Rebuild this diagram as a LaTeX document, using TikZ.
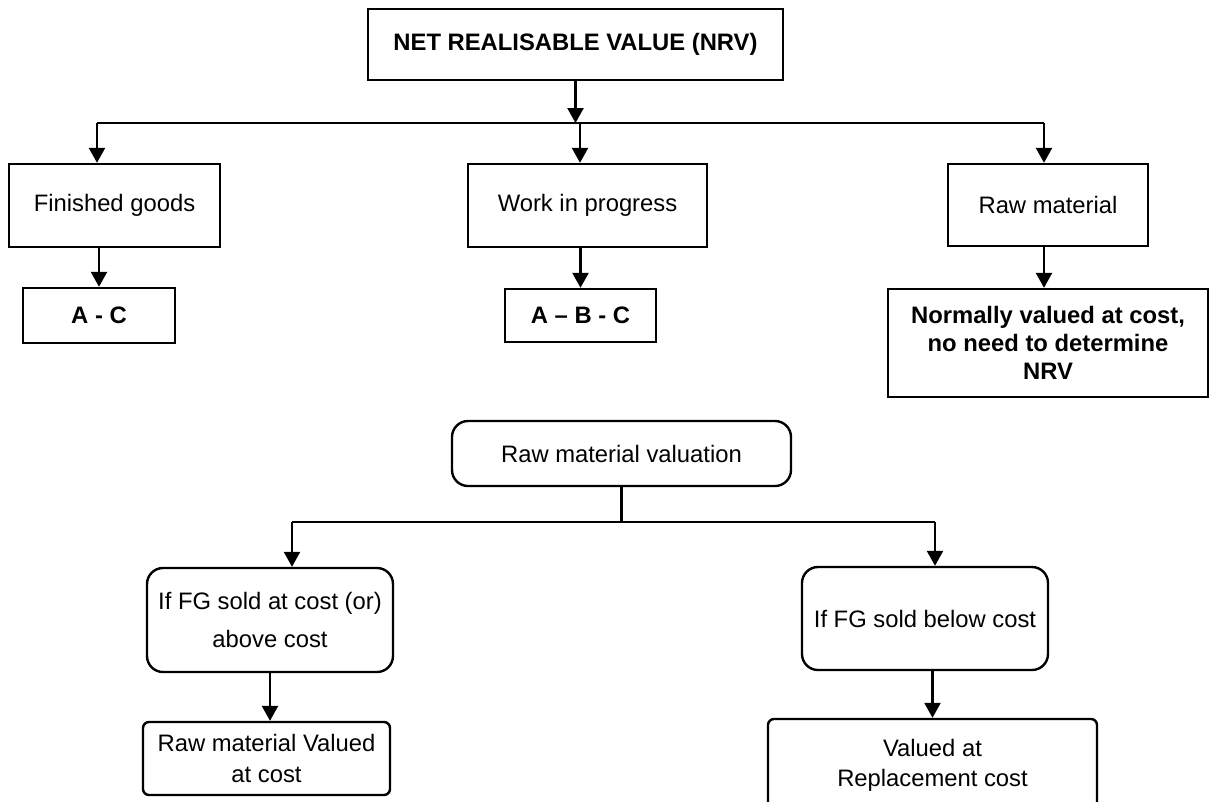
\documentclass[tikz,border=0pt]{standalone}
\usepackage{fontspec}
\setmainfont{Liberation Sans}
\usetikzlibrary{arrows.meta}
\begin{document}
\begin{tikzpicture}[x=1pt, y=-1pt,
    box/.style={draw, line width=2.4pt, inner sep=0pt, align=center,
        font=\fontsize{23.8}{28}\selectfont},
    boldbox/.style={box, font=\fontsize{23.8}{28}\selectfont\bfseries},
    roundbox/.style={box, rounded corners=16pt},
    smallround/.style={box, rounded corners=6pt},
    line/.style={line width=2.4pt},
    arr/.style={line width=2.4pt, -{Triangle[length=15pt,width=16pt]}}]
    \useasboundingbox (0,0) rectangle (1209,801);
    \clip (0,0) rectangle (1209,801);

    % Top box
    \node[boldbox, minimum width=415pt, minimum height=71pt] (nrv) at (575.5,44.5) {NET REALISABLE VALUE (NRV)};

    % Three kinds of stock
    \node[box, minimum width=211pt, minimum height=83pt] (fg) at (114.5,205.5) {Finished goods};
    \node[box, minimum width=239pt, minimum height=83pt] (wip) at (587.5,205.5) {Work in progress};
    \node[box, minimum width=200pt, minimum height=82pt] (rm) at (1048,205) {Raw material};

    % Their NRV
    \node[boldbox, minimum width=152pt, minimum height=55pt] (ac) at (99,315.5) {A - C};
    \node[boldbox, minimum width=151pt, minimum height=53pt] (abc) at (580.5,315.5) {A -- B - C};
    \node[boldbox, minimum width=320pt, minimum height=108pt] (norm) at (1048,343) {Normally valued at cost,\\no need to determine\\NRV};

    % Raw material valuation
    \node[roundbox, minimum width=339pt, minimum height=65pt] (rmv) at (621.5,453.5) {Raw material valuation};
    \node[roundbox, minimum width=246pt, minimum height=104pt, font=\fontsize{23.8}{38}\selectfont] (ifc) at (270,620) {If FG sold at cost (or)\\above cost};
    \node[roundbox, minimum width=246pt, minimum height=103pt] (ifb) at (925,618.5) {If FG sold below cost};
    \node[smallround, minimum width=247pt, minimum height=73pt, font=\fontsize{23.8}{31}\selectfont] (rmc) at (266.5,758.5) {Raw material Valued\\at cost};
    \node[smallround, minimum width=329pt, minimum height=92pt, font=\fontsize{23.8}{30}\selectfont] (rep) at (932.5,765) {Valued at\\Replacement cost};

    % Upper connectors
    \coordinate (busL) at (97,123);
    \coordinate (busM) at (580,123);
    \coordinate (busR) at (1044,123);
    \draw[arr] (nrv.south) -- (nrv.south |- busM);
    \draw[line] (busL) -- (busR);
    \draw[arr] (busL) -- (busL |- fg.north);
    \draw[arr] (busM) -- (busM |- wip.north);
    \draw[arr] (busR) -- (busR |- rm.north);
    \draw[arr] (ac.north |- fg.south) -- (ac.north);
    \draw[arr] (abc.north |- wip.south) -- (abc.north);
    \draw[arr] (busR |- rm.south) -- (busR |- norm.north);

    % Lower connectors
    \coordinate (lowL) at (292,522);
    \coordinate (lowR) at (935,522);
    \draw[line] (rmv.south) -- (rmv.south |- lowL);
    \draw[line] (lowL) -- (lowR);
    \draw[arr] (lowL) -- (lowL |- ifc.north);
    \draw[arr] (lowR) -- (lowR |- ifb.north);
    \draw[arr] (ifc.south) -- (ifc.south |- rmc.north);
    \draw[arr] (rep.north |- ifb.south) -- (rep.north);
\end{tikzpicture}
\end{document}
